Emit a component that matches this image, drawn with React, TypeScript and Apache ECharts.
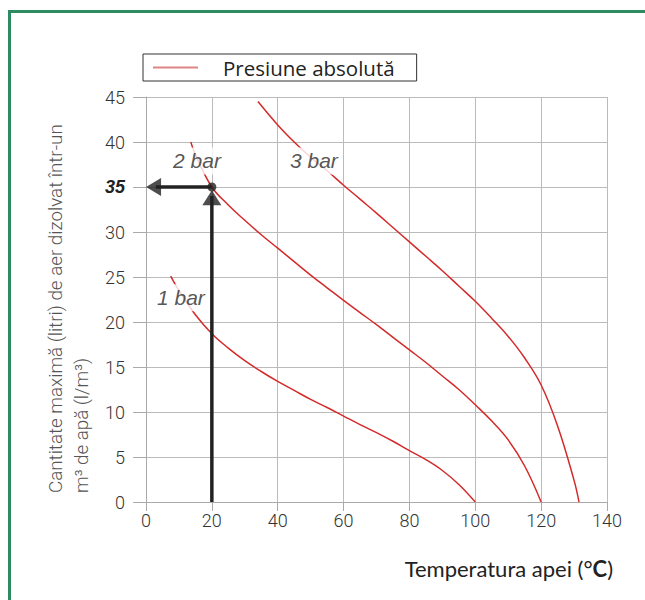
import React, { useEffect, useRef } from 'react';
import * as echarts from 'echarts';

const seriesName = 'Presiune absolută';
const xAxisName = 'Temperatura apei (°{b|C})';
const yAxisNameLines = ['Cantitate maximă (litri) de aer dizolvat într-un', 'm³ de apă (l/m³)'];

const bar1X = [7.5, 10, 15, 20, 25, 30, 35, 40, 45, 50, 55, 60, 65, 70, 75, 80, 85, 90, 95, 100];
const bar1Y = [25.1, 23.5, 20.8, 18.7, 17.1, 15.7, 14.5, 13.4, 12.4, 11.4, 10.5, 9.55, 8.6, 7.7, 6.75, 5.7, 4.7, 3.5, 1.95, 0];
const bar2X = [13.6, 15, 20, 25, 30, 35, 40, 45, 50, 55, 60, 65, 70, 75, 80, 85, 90, 95, 100, 105, 110, 115, 120];
const bar2Y = [40, 38.6, 35, 33.0, 31.3, 29.7, 28.2, 26.7, 25.2, 23.8, 22.4, 21.05, 19.7, 18.3, 16.9, 15.5, 14.0, 12.5, 10.8, 9.0, 6.9, 4.0, 0];
const bar3X = [34, 40, 45, 50, 55, 60, 65, 70, 75, 80, 85, 90, 95, 100, 105, 110, 115, 120, 125, 130, 131.5];
const bar3Y = [44.5, 41.9, 40.0, 38.3, 36.8, 35.2, 33.65, 32.1, 30.5, 28.9, 27.3, 25.7, 24.0, 22.3, 20.4, 18.4, 16.0, 13.0, 8.45, 2.4, 0];

const curveLabels = ['1 bar', '2 bar', '3 bar'];
const curveLabelX = [10.6, 15.5, 51];
const curveLabelY = [22.7, 37.9, 37.9];

const readTemp = 20;
const readAmount = 35;

const zip = (xs: number[], ys: number[]) => xs.map((x, i) => [x, ys[i]]);

export default function App() {
  const ref = useRef<HTMLDivElement>(null);
  useEffect(() => {
    if (!ref.current) return;
    const chart = echarts.init(ref.current, undefined, { renderer: 'svg' });
    const curveStyle = { color: '#d42a2a', width: 1.5 };
    const tickFont = { fontFamily: 'Roboto', fontWeight: 300 as any, fontSize: 18, color: '#333' };
    const curve = (xs: number[], ys: number[]) => ({
      name: seriesName,
      type: 'line',
      data: zip(xs, ys),
      smooth: 0.4,
      symbol: 'none',
      lineStyle: curveStyle,
      itemStyle: { color: '#d42a2a' },
      z: 2,
    });
    chart.setOption({
      animation: false,
      grid: { left: 146, right: 38, top: 97, bottom: 98 },
      legend: {
        left: 143,
        top: 54,
        data: [{ name: seriesName, icon: 'rect', itemStyle: { color: '#e08585' } }],
        itemWidth: 45,
        itemHeight: 2,
        borderColor: '#333',
        borderWidth: 1,
        borderRadius: 0,
        padding: [3, 22, 3, 10],
        textStyle: { fontFamily: 'Open Sans', fontSize: 20.5, color: '#222', lineHeight: 20, padding: [0, 0, 0, 20] },
        selectedMode: false,
      },
      xAxis: {
        type: 'value',
        min: 0,
        max: 140,
        interval: 20,
        axisLine: { show: true, lineStyle: { color: '#aaa' } },
        axisTick: { show: true, length: 9, lineStyle: { color: '#aaa' } },
        axisLabel: { ...tickFont, margin: 9 },
        splitLine: { show: true, lineStyle: { color: '#bbb' } },
      },
      yAxis: {
        type: 'value',
        min: 0,
        max: 45,
        interval: 5,
        axisLine: { show: true, lineStyle: { color: '#aaa' } },
        axisTick: { show: true, length: 13, lineStyle: { color: '#aaa' } },
        axisLabel: {
          ...tickFont,
          margin: 21,
          formatter: (v: number) => (v === readAmount ? '{b|' + v + '}' : String(v)),
          rich: {
            b: { fontFamily: 'Liberation Sans', fontWeight: 'bold', fontStyle: 'italic', fontSize: 18, color: '#222' },
          },
        },
        splitLine: { show: true, lineStyle: { color: '#bbb' } },
      },
      graphic: [
        {
          type: 'rect',
          shape: { x: 9.5, y: 11.5, width: 800, height: 800 },
          style: { fill: 'none', stroke: '#2e8a60', lineWidth: 3 },
          silent: true,
        },
        {
          type: 'text',
          x: 69,
          y: 493,
          rotation: Math.PI / 2,
          style: {
            text: yAxisNameLines.join('\n'),
            fontFamily: 'Roboto',
            fontWeight: 300,
            fontSize: 18.8,
            lineHeight: 26,
            fill: '#555',
            align: 'left',
            verticalAlign: 'middle',
          },
        },
        {
          type: 'text',
          x: 613,
          y: 568,
          style: {
            text: xAxisName,
            fontFamily: 'Lato',
            fontSize: 22,
            fill: '#222',
            align: 'right',
            verticalAlign: 'middle',
            rich: { b: { fontFamily: 'Lato', fontSize: 22, fontWeight: 'bold', fill: '#222' } },
          },
        },
      ],
      series: [
        curve(bar1X, bar1Y),
        curve(bar2X, bar2Y),
        curve(bar3X, bar3Y),
        {
          name: 'labels',
          type: 'scatter',
          data: curveLabels.map((t, i) => [curveLabelX[i], curveLabelY[i], t]),
          symbolSize: 1,
          itemStyle: { color: 'rgba(0,0,0,0)' },
          label: {
            show: true,
            position: 'inside',
            formatter: (p: any) => p.value[2],
            fontFamily: 'Liberation Sans',
            fontStyle: 'italic',
            fontSize: 21,
            color: '#2a2a2a',
            backgroundColor: '#fff',
            padding: [3, 4],
          },
          z: 5,
        },
        {
          name: 'shaftV',
          type: 'line',
          data: [[readTemp, 0], [readTemp, 34]],
          symbol: 'none',
          lineStyle: { color: '#222', width: 3.5 },
          z: 6,
        },
        {
          name: 'shaftH',
          type: 'line',
          data: [[readTemp, readAmount], [3, readAmount]],
          symbol: 'none',
          lineStyle: { color: '#222', width: 3.5 },
          z: 6,
        },
        {
          name: 'heads',
          type: 'scatter',
          data: [
            { value: [readTemp, 33.8], symbolRotate: 0, symbolSize: [19, 15] },
            { value: [2.3, readAmount], symbolRotate: 90, symbolSize: [18, 15] },
          ],
          symbol: 'triangle',
          itemStyle: { color: '#222' },
          z: 7,
        },
        {
          name: 'point',
          type: 'scatter',
          data: [[readTemp, readAmount]],
          symbol: 'circle',
          symbolSize: 9,
          itemStyle: { color: '#222' },
          z: 8,
        },
      ],
    });
    return () => chart.dispose();
  }, []);
  return <div ref={ref} style={{ position: 'absolute', left: 0, top: 0, width: 645, height: 600, background: '#fff' }} />;
}
